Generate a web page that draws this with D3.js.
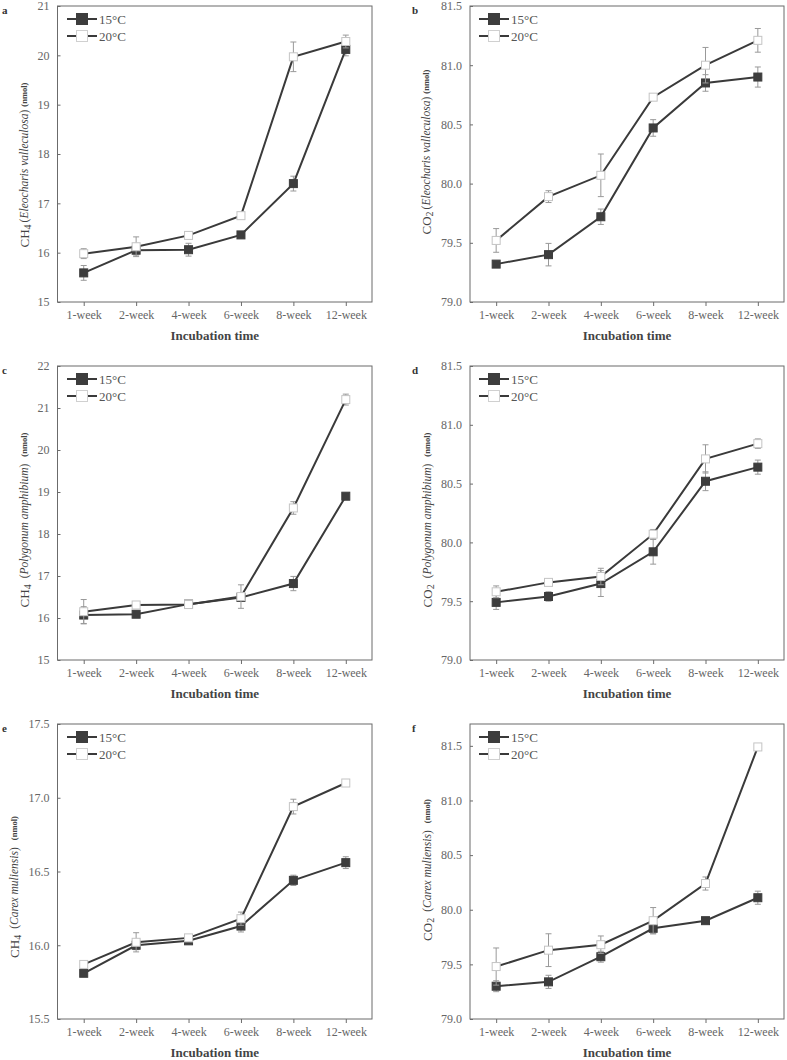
<!DOCTYPE html>
<html>
<head>
<meta charset="utf-8">
<script src="https://cdn.jsdelivr.net/npm/d3@7"></script>
<style>
  html, body { margin: 0; padding: 0; background: #fff; }
  svg { display: block; }
  text { font-family: "Liberation Serif", "Times New Roman", "DejaVu Serif", serif; }
</style>
</head>
<body>
<svg id="chart" width="787" height="1060"></svg>
<script>
// ---------- data ----------
const weeks = ["1-week", "2-week", "4-week", "6-week", "8-week", "12-week"];
const seriesNames = ["15°C", "20°C"];
const panelLetters = ["a", "b", "c", "d", "e", "f"];

const a15 = [15.59, 16.05, 16.06, 16.36, 17.40, 20.12];
const a15err = [0.15, 0.10, 0.13, 0.05, 0.15, 0.13];
const a20 = [15.98, 16.12, 16.35, 16.75, 19.97, 20.28];
const a20err = [0.10, 0.20, 0.07, 0.05, 0.30, 0.13];

const b15 = [79.32, 79.40, 79.72, 80.47, 80.85, 80.90];
const b15err = [0.02, 0.095, 0.065, 0.07, 0.07, 0.085];
const b20 = [79.52, 79.89, 80.07, 80.73, 81.00, 81.21];
const b20err = [0.10, 0.05, 0.18, 0.02, 0.15, 0.10];

const c15 = [16.07, 16.09, 16.33, 16.49, 16.82, 18.90];
const c15err = [0.20, 0.08, 0.05, 0.05, 0.17, 0.05];
const c20 = [16.15, 16.31, 16.32, 16.51, 18.62, 21.20];
const c20err = [0.29, 0.07, 0.07, 0.28, 0.15, 0.13];

const d15 = [79.49, 79.54, 79.65, 79.92, 80.52, 80.64];
const d15err = [0.06, 0.04, 0.11, 0.105, 0.08, 0.06];
const d20 = [79.58, 79.66, 79.71, 80.07, 80.71, 80.84];
const d20err = [0.05, 0.02, 0.07, 0.04, 0.12, 0.04];

const e15 = [15.81, 16.00, 16.03, 16.13, 16.44, 16.56];
const e15err = [0.02, 0.03, 0.02, 0.04, 0.035, 0.04];
const e20 = [15.87, 16.02, 16.05, 16.18, 16.94, 17.10];
const e20err = [0.02, 0.065, 0.02, 0.045, 0.05, 0.02];

const f15 = [79.30, 79.34, 79.57, 79.83, 79.90, 80.11];
const f15err = [0.05, 0.06, 0.05, 0.05, 0.02, 0.06];
const f20 = [79.48, 79.63, 79.68, 79.90, 80.24, 81.49];
const f20err = [0.17, 0.15, 0.08, 0.12, 0.06, 0.02];

const yDomains = [[15, 21], [79, 81.5], [15, 22], [79, 81.5], [15.5, 17.5], [79, 81.7]];
const yTicks = [
  [15, 16, 17, 18, 19, 20, 21],
  [79.0, 79.5, 80.0, 80.5, 81.0, 81.5],
  [15, 16, 17, 18, 19, 20, 21, 22],
  [79.0, 79.5, 80.0, 80.5, 81.0, 81.5],
  [15.5, 16.0, 16.5, 17.0, 17.5],
  [79.0, 79.5, 80.0, 80.5, 81.0, 81.5]
];
const yFormats = ["d", ".1f", "d", ".1f", ".1f", ".1f"];
const gasNames = ["CH", "CO", "CH", "CO", "CH", "CO"];
const gasSubs = ["4", "2", "4", "2", "4", "2"];
const species = ["Eleocharis valleculosa", "Eleocharis valleculosa", "Polygonum amphibium",
                 "Polygonum amphibium", "Carex muliensis", "Carex muliensis"];
const xTitle = "Incubation time";

const panelData = [
  [a15, a15err, a20, a20err],
  [b15, b15err, b20, b20err],
  [c15, c15err, c20, c20err],
  [d15, d15err, d20, d20err],
  [e15, e15err, e20, e20err],
  [f15, f15err, f20, f20err]
];

// ---------- layout ----------
const cols = [{ left: 57.5, right: 372 }, { left: 470, right: 784 }];
const rows = [{ top: 6, bottom: 302 }, { top: 366, bottom: 660 }, { top: 724, bottom: 1019 }];
const yLabelPos = [
  { x: 24, cy: 165, gap: 0 }, { x: 426, cy: 152, gap: 0 },
  { x: 24, cy: 520, gap: 4 }, { x: 427, cy: 520, gap: 4 },
  { x: 14, cy: 887, gap: 4 }, { x: 427, cy: 870, gap: 4 }
];

const darkLine = "#3a3a3a";
const darkFill = "#3d3d3d";
const frameColor = "#6b6b6b";
const tickText = "#666";
const errColor = "#999";

const svg = d3.select("#chart");

panelData.forEach((pd, i) => {
  const col = cols[i % 2], row = rows[Math.floor(i / 2)];
  const g = svg.append("g");

  const x = d3.scalePoint().domain(weeks).range([col.left, col.right]).padding(0.5);
  const y = d3.scaleLinear().domain(yDomains[i]).range([row.bottom, row.top]);

  // frame
  g.append("rect")
    .attr("x", col.left).attr("y", row.top)
    .attr("width", col.right - col.left).attr("height", row.bottom - row.top)
    .attr("fill", "none").attr("stroke", frameColor).attr("stroke-width", 1);

  // y axis (inward ticks)
  const yAxis = d3.axisLeft(y).tickValues(yTicks[i]).tickFormat(d3.format(yFormats[i]))
    .tickSizeInner(-3).tickSizeOuter(0).tickPadding(8);
  const ya = g.append("g").attr("transform", `translate(${col.left},0)`).call(yAxis);
  ya.select(".domain").remove();
  ya.selectAll(".tick line").attr("stroke", frameColor);
  ya.selectAll(".tick text").attr("fill", tickText)
    .style("font-family", '"Liberation Serif", "Times New Roman", serif').style("font-size", "12px");

  // x axis (outward ticks)
  const xAxis = d3.axisBottom(x).tickSizeInner(4).tickSizeOuter(0).tickPadding(4);
  const xa = g.append("g").attr("transform", `translate(0,${row.bottom})`).call(xAxis);
  xa.select(".domain").remove();
  xa.selectAll(".tick line").attr("stroke", frameColor);
  xa.selectAll(".tick text").attr("fill", tickText)
    .style("font-family", '"Liberation Serif", "Times New Roman", serif').style("font-size", "12px");

  // x title
  g.append("text")
    .attr("x", (col.left + col.right) / 2).attr("y", row.bottom + 38)
    .attr("text-anchor", "middle").attr("font-weight", "bold")
    .attr("font-size", 13).attr("fill", "#444")
    .text(xTitle);

  // y label
  const lp = yLabelPos[i];
  const yl = g.append("text")
    .attr("transform", `translate(${lp.x},${lp.cy}) rotate(-90)`)
    .attr("text-anchor", "middle").attr("dominant-baseline", "central")
    .attr("fill", "#444");
  yl.append("tspan").attr("font-size", 13).text(gasNames[i]);
  yl.append("tspan").attr("font-size", 10).attr("dy", 3).text(gasSubs[i]);
  yl.append("tspan").attr("font-size", 11.5).attr("dy", -3).attr("dx", 2 + lp.gap).text("(");
  yl.append("tspan").attr("font-size", 11.5).attr("font-style", "italic").text(species[i]);
  yl.append("tspan").attr("font-size", 11.5).text(")");
  yl.append("tspan").attr("font-size", 8.5).attr("font-weight", "bold").attr("dx", 3 + lp.gap).text("(nmol)");

  // panel letter
  g.append("text")
    .attr("x", i % 2 === 0 ? 2 : 412).attr("y", row.top + (i < 2 ? 8 : (i < 4 ? 8 : 8)))
    .attr("font-weight", "bold").attr("font-size", 11).attr("fill", "#333")
    .text(panelLetters[i]);

  const line = d3.line().x((d, k) => x(weeks[k])).y(d => y(d));

  const series = [
    { vals: pd[0], errs: pd[1], fill: darkFill, stroke: darkFill, size: 8 },
    { vals: pd[2], errs: pd[3], fill: "#ffffff", stroke: "#c4c4c4", size: 8 }
  ];

  series.forEach((s) => {
    // error bars
    const eg = g.append("g");
    s.vals.forEach((v, k) => {
      const cx = x(weeks[k]);
      const y1 = y(v - s.errs[k]), y2 = y(v + s.errs[k]);
      eg.append("line").attr("x1", cx).attr("x2", cx).attr("y1", y1).attr("y2", y2)
        .attr("stroke", errColor).attr("stroke-width", 1);
      [y1, y2].forEach(yy => eg.append("line")
        .attr("x1", cx - 3).attr("x2", cx + 3).attr("y1", yy).attr("y2", yy)
        .attr("stroke", errColor).attr("stroke-width", 1));
    });
    // line
    g.append("path").datum(s.vals).attr("d", line)
      .attr("fill", "none").attr("stroke", darkLine).attr("stroke-width", 2);
    // markers
    g.append("g").selectAll("rect").data(s.vals).join("rect")
      .attr("x", (d, k) => x(weeks[k]) - s.size / 2)
      .attr("y", d => y(d) - s.size / 2)
      .attr("width", s.size).attr("height", s.size)
      .attr("fill", s.fill).attr("stroke", s.stroke).attr("stroke-width", 1);
  });

  // legend
  const lx = col.left + (i % 2 === 0 ? 9.5 : 9);
  seriesNames.forEach((name, k) => {
    const ly = row.top + 13 + k * 17;
    g.append("line").attr("x1", lx).attr("x2", lx + 30).attr("y1", ly).attr("y2", ly)
      .attr("stroke", darkLine).attr("stroke-width", 2);
    g.append("rect").attr("x", lx + 15 - 5.5).attr("y", ly - 5.5).attr("width", 11).attr("height", 11)
      .attr("fill", k === 0 ? darkFill : "#fff").attr("stroke", k === 0 ? darkFill : "#d0d0d0");
    g.append("text").attr("x", lx + 32).attr("y", ly).attr("dominant-baseline", "central")
      .attr("font-size", 13).attr("fill", "#555").text(name);
  });
});
</script>
</body>
</html>
